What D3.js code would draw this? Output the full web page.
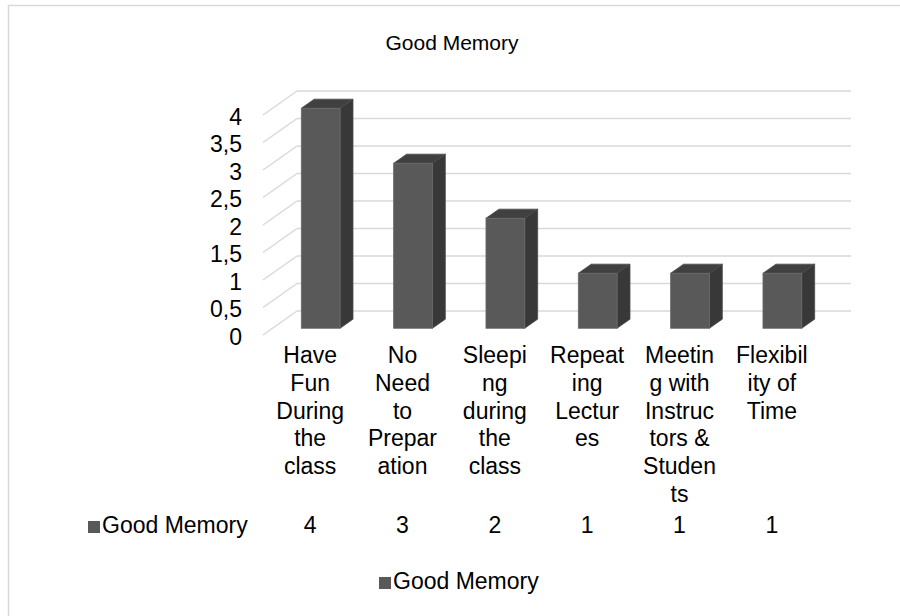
<!DOCTYPE html>
<html>
<head>
<meta charset="utf-8">
<script src="https://cdn.jsdelivr.net/npm/d3@7"></script>
<style>
  html, body { margin: 0; padding: 0; background: #fff; }
  svg { display: block; font-family: Arial, "Liberation Sans", sans-serif; }
</style>
</head>
<body>
<svg id="chart" width="900" height="616"></svg>
<script>
// Category names, wrapped the way the data table wraps them
const categories = [
  "Have Fun During the class",
  "No Need to Preparation",
  "Sleeping during the class",
  "Repeating Lectures",
  "Meeting with Instructors & Students",
  "Flexibility of Time"
];
const categoryLines = [
  ["Have", "Fun", "During", "the", "class"],
  ["No", "Need", "to", "Prepar", "ation"],
  ["Sleepi", "ng", "during", "the", "class"],
  ["Repeat", "ing", "Lectur", "es"],
  ["Meetin", "g with", "Instruc", "tors &", "Studen", "ts"],
  ["Flexibil", "ity of", "Time"]
];
const seriesName = "Good Memory";
const values = [4, 3, 2, 1, 1, 1];
const tickValues = [0, 0.5, 1, 1.5, 2, 2.5, 3, 3.5, 4];
const tickLabels = ["0", "0,5", "1", "1,5", "2", "2,5", "3", "3,5", "4"];

const svg = d3.select("#chart");

// chart frame
svg.append("rect")
  .attr("x", 8.5).attr("y", 5.5)
  .attr("width", 1000).attr("height", 1000)
  .attr("fill", "#fff").attr("stroke", "#d9d9d9").attr("stroke-width", 1.5);

// title
svg.append("text")
  .attr("x", 452).attr("y", 44)
  .attr("text-anchor", "middle").attr("dominant-baseline", "middle")
  .attr("font-size", 21).attr("fill", "#000")
  .text(seriesName);

// front plane scales and depth projection
const x = d3.scaleBand().domain(categories).range([263, 817]).padding(0);
const y = d3.scaleLinear().domain([0, 4]).range([335, 115]);
const depth = { dx: 34, dy: -24 };
const P = (px, py, t) => [px + depth.dx * t, py + depth.dy * t];

const grid = svg.append("g");
// back wall gridlines
grid.selectAll("line.back").data(tickValues).join("line")
  .attr("class", "back")
  .attr("x1", d => P(x.range()[0], y(d), 1)[0])
  .attr("x2", d => P(x.range()[1], y(d), 1)[0])
  .attr("y1", d => P(0, y(d), 1)[1])
  .attr("y2", d => P(0, y(d), 1)[1])
  .attr("stroke", "#d9d9d9").attr("stroke-width", 1.5);
// side wall gridlines
grid.selectAll("line.side").data(tickValues).join("line")
  .attr("class", "side")
  .attr("x1", x.range()[0]).attr("y1", d => y(d))
  .attr("x2", d => P(x.range()[0], y(d), 1)[0])
  .attr("y2", d => P(0, y(d), 1)[1])
  .attr("stroke", "#d9d9d9").attr("stroke-width", 1.5);

// value axis labels
const axis = d3.axisLeft(y)
  .tickValues(tickValues)
  .tickFormat((d, i) => tickLabels[i])
  .tickSize(0).tickPadding(21);
const axisG = svg.append("g")
  .attr("transform", `translate(${x.range()[0]},2)`)
  .call(axis);
axisG.select(".domain").remove();
axisG.selectAll("text")
  .attr("font-size", 23).attr("fill", "#000")
  .attr("font-family", "Arial, 'Liberation Sans', sans-serif");

// 3D columns
const barFrac = 0.42, t1 = 0.28, t2 = 0.66;
const bw = x.bandwidth() * barFrac;
const bars = svg.append("g").selectAll("g").data(categories).join("g");
const poly = pts => pts.map(p => p.join(",")).join(" ");

bars.each(function (c, i) {
  const g = d3.select(this);
  const x0 = x(c) + (x.bandwidth() - bw) / 2 + 2;
  const x1 = x0 + bw;
  const yv = y(values[i]), y0 = y(0);
  // top face
  g.append("polygon")
    .attr("points", poly([P(x0, yv, t1), P(x1, yv, t1), P(x1, yv, t2), P(x0, yv, t2)]))
    .attr("fill", "#404040").attr("stroke", "#4a4a4a").attr("stroke-width", 0.8);
  // side face
  g.append("polygon")
    .attr("points", poly([P(x1, yv, t1), P(x1, y0, t1), P(x1, y0, t2), P(x1, yv, t2)]))
    .attr("fill", "#383838").attr("stroke", "#4a4a4a").attr("stroke-width", 0.8);
  // front face
  const f0 = P(x0, yv, t1), f1 = P(x1, y0, t1);
  g.append("rect")
    .attr("x", f0[0]).attr("y", f0[1])
    .attr("width", f1[0] - f0[0]).attr("height", f1[1] - f0[1])
    .attr("fill", "#595959").attr("stroke", "#6a6a6a").attr("stroke-width", 0.8);
});

// data table: category header rows
const lineH = 27.8, labelTop = 357;
const labelSize = 23;
const colX = c => x(c) + x.bandwidth() / 2 + 1;
const table = svg.append("g").attr("font-size", labelSize).attr("fill", "#000");
table.selectAll("text.cat").data(categories).join("text")
  .attr("class", "cat")
  .attr("text-anchor", "middle")
  .attr("x", c => colX(c))
  .each(function (c, i) {
    d3.select(this).selectAll("tspan").data(categoryLines[i]).join("tspan")
      .attr("x", colX(c))
      .attr("y", (d, j) => labelTop + j * lineH)
      .attr("dominant-baseline", "middle")
      .text(d => d);
  });

// data table: series row
const rowY = 527;
table.append("rect")
  .attr("x", 88).attr("y", rowY - 6).attr("width", 12).attr("height", 12)
  .attr("fill", "#595959");
table.append("text")
  .attr("x", 102).attr("y", rowY).attr("dominant-baseline", "middle")
  .text(seriesName);
table.selectAll("text.val").data(values).join("text")
  .attr("class", "val")
  .attr("text-anchor", "middle").attr("dominant-baseline", "middle")
  .attr("x", (d, i) => colX(categories[i]))
  .attr("y", rowY)
  .text(d => d);

// legend
const legend = svg.append("g").attr("transform", "translate(379,583)");
legend.append("rect").attr("x", 0).attr("y", -6).attr("width", 12).attr("height", 12)
  .attr("fill", "#595959");
legend.append("text").attr("x", 14).attr("y", 0)
  .attr("dominant-baseline", "middle").attr("font-size", labelSize).attr("fill", "#000")
  .text(seriesName);
</script>
</body>
</html>
